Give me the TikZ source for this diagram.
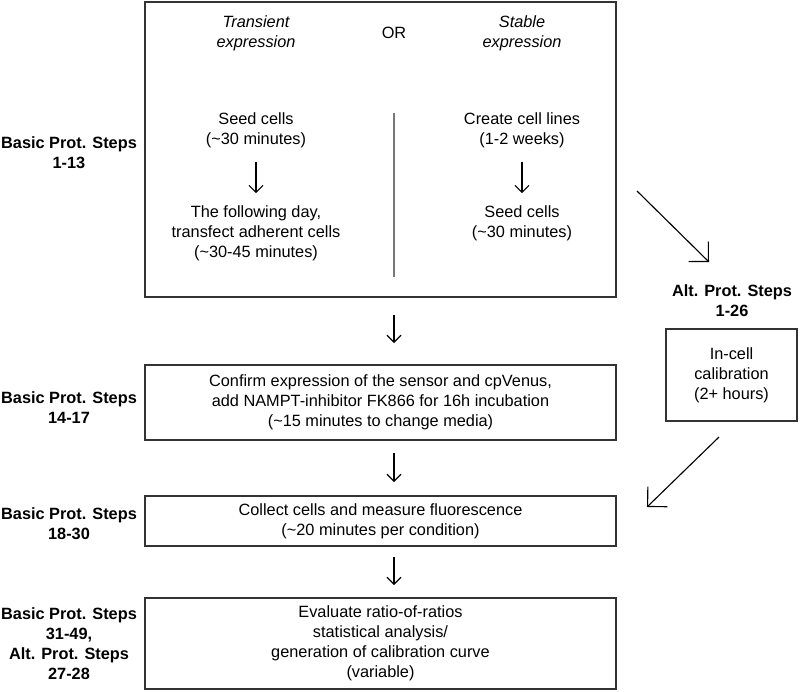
\documentclass[tikz,border=0pt]{standalone}
\usepackage{fontspec}
\setmainfont{Liberation Sans}
\usetikzlibrary{arrows.meta}
\definecolor{boxgray}{HTML}{333333}
\definecolor{divgray}{HTML}{777777}

\begin{document}
\begin{tikzpicture}[x=0.025cm, y=-0.025cm, >={Straight Barb[length=5pt, width=10pt]},
	every node/.style={align=center, inner sep=0pt, font=\fontsize{11.6}{14.2}\selectfont},
	box/.style={draw=boxgray, line width=1.4pt, minimum width=11.775cm},
	steps/.style={font=\fontsize{11.6}{14.2}\selectfont\bfseries},
	flow/.style={->, line width=0.8pt},
	slant/.style={-{Straight Barb[length=10pt, width=20pt]}, line width=0.8pt}]

	\useasboundingbox (0,0) rectangle (800,691);

	% step labels on the left
	\node [steps] (S1) at (69,152.5) {Basic Prot. Steps\\1-13};
	\node [steps] (S2) at (69,408) {Basic Prot. Steps\\14-17};
	\node [steps] (S3) at (69,524) {Basic Prot. Steps\\18-30};
	\node [steps] (S4) at (69,643.5) {Basic Prot. Steps\\31-49,\\Alt. Prot. Steps\\27-28};

	% expression box
	\node [box, minimum height=7.375cm] (EX) at (380.5,149.5) {};
	\node [font=\fontsize{11.6}{14.2}\selectfont\itshape] (TR) at (256,33) {Transient\\expression};
	\node (OR) at (394,33) {OR};
	\node [font=\fontsize{11.6}{14.2}\selectfont\itshape] (ST) at (522,33) {Stable\\expression};
	\node (SA) at (256,130) {Seed cells\\(\textasciitilde30 minutes)};
	\node (TA) at (256,233) {The following day,\\transfect adherent cells\\(\textasciitilde30-45 minutes)};
	\node (CL) at (522,130) {Create cell lines\\(1-2 weeks)};
	\node (SB) at (522,223) {Seed cells\\(\textasciitilde30 minutes)};
	\coordinate (D1) at (394,113);
	\coordinate (D2) at (394,277);
	\draw [divgray, line width=1.1pt] (D1) -- (D2);
	\draw [flow, shorten <=0.35cm, shorten >=0.3cm] (SA) -- (TA);
	\draw [flow, shorten <=0.35cm, shorten >=0.3cm] (CL) -- (SB);

	% main steps
	\node [box, minimum height=1.875cm] (CF) at (380.5,402.5) {Confirm expression of the sensor and cpVenus,\\add NAMPT-inhibitor FK866 for 16h incubation\\(\textasciitilde15 minutes to change media)};
	\node [box, minimum height=1.25cm] (CO) at (380.5,521) {Collect cells and measure fluorescence\\(\textasciitilde20 minutes per condition)};
	\node [box, minimum height=2.275cm] (EV) at (380.5,643.5) {Evaluate ratio-of-ratios\\statistical analysis/\\generation of calibration curve\\(variable)};

	\draw [flow, shorten <=0.425cm, shorten >=0.525cm] (EX.south -| OR) -- (CF.north -| OR);
	\draw [flow, shorten <=0.3cm, shorten >=0.325cm] (CF.south -| OR) -- (CO.north -| OR);
	\draw [flow, shorten <=0.25cm, shorten >=0.3cm] (CO.south -| OR) -- (EV.north -| OR);

	% alternative calibration
	\node [steps] (AL) at (732,301) {Alt. Prot. Steps\\1-26};
	\node [box, minimum width=3.275cm, minimum height=2.3cm] (IC) at (731.5,375) {In-cell\\calibration\\(2+ hours)};
	\coordinate (A1) at (637,191);
	\coordinate (A2) at (709,262);
	\coordinate (B1) at (719,437);
	\coordinate (B2) at (647,507);
	\draw [slant] (A1) -- (A2);
	\draw [slant] (B1) -- (B2);

\end{tikzpicture}
\end{document}
